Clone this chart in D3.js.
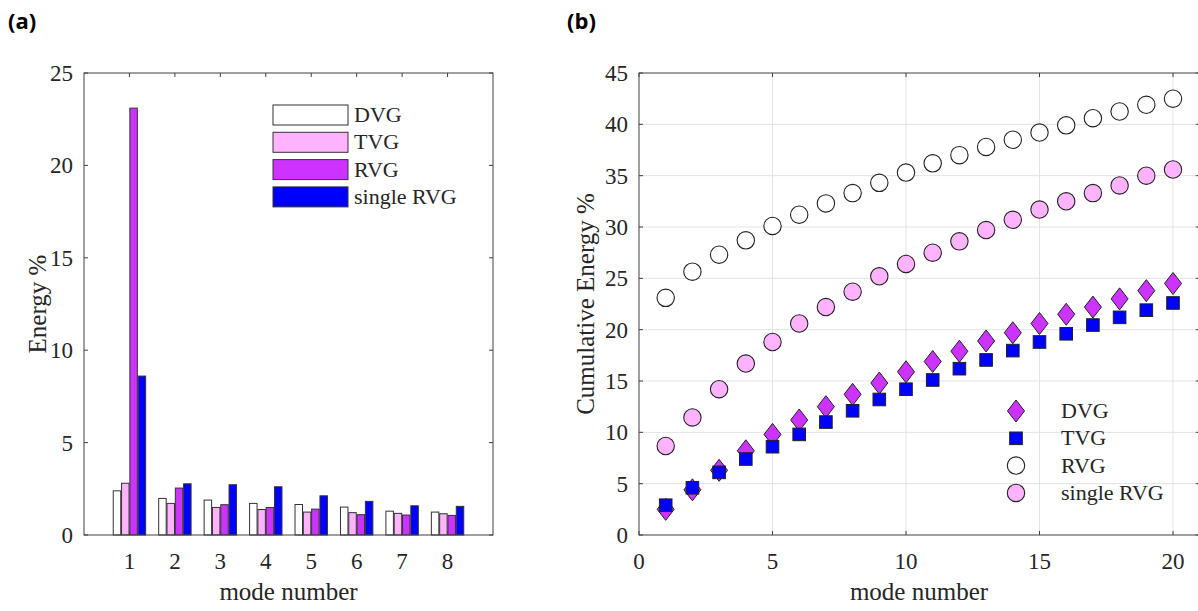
<!DOCTYPE html>
<html>
<head>
<meta charset="utf-8">
<script src="https://cdn.jsdelivr.net/npm/d3@7"></script>
<style>
  body { margin: 0; background: #fff; }
  svg text { font-family: "Liberation Serif", "Times New Roman", serif; fill: #262626; }
</style>
</head>
<body>
<svg id="chart" width="1198" height="611"></svg>
<script>
// ---- panel (a) data : energy per mode ----
var modesA = [1, 2, 3, 4, 5, 6, 7, 8];
var seriesNames = ["DVG", "TVG", "RVG", "single RVG"];
var energyDVG = [2.39, 1.98, 1.89, 1.71, 1.65, 1.51, 1.29, 1.24];
var energyTVG = [2.80, 1.71, 1.49, 1.38, 1.24, 1.21, 1.17, 1.15];
var energyRVG = [23.1, 2.54, 1.64, 1.49, 1.40, 1.10, 1.08, 1.06];
var energySingle = [8.6, 2.77, 2.72, 2.61, 2.12, 1.82, 1.58, 1.55];
var yTicksA = [0, 5, 10, 15, 20, 25];

// ---- panel (b) data : cumulative energy ----
var modesB = d3.range(1, 21);
var cumDVG = [2.5, 4.4, 6.3, 8.2, 9.8, 11.2, 12.5, 13.7, 14.8, 15.9, 16.9, 17.9, 18.9, 19.7, 20.6, 21.5, 22.2, 23.0, 23.8, 24.5];
var cumTVG = [2.9, 4.6, 6.1, 7.4, 8.6, 9.8, 11.0, 12.1, 13.2, 14.2, 15.1, 16.2, 17.05, 17.96, 18.8, 19.6, 20.45, 21.2, 21.9, 22.6];
var cumRVG = [23.1, 25.65, 27.3, 28.7, 30.1, 31.2, 32.3, 33.3, 34.3, 35.3, 36.2, 37.0, 37.8, 38.5, 39.2, 39.9, 40.6, 41.25, 41.9, 42.5];
var cumSingle = [8.67, 11.45, 14.2, 16.7, 18.8, 20.6, 22.2, 23.7, 25.2, 26.4, 27.5, 28.6, 29.7, 30.7, 31.7, 32.5, 33.3, 34.05, 35.0, 35.6];
var xTicksB = [0, 5, 10, 15, 20];
var yTicksB = [0, 5, 10, 15, 20, 25, 30, 35, 40, 45];

var colors = {"DVG": "#ffffff", "TVG": "#ffb3ff", "RVG": "#cc33ff", "single RVG": "#0000ff"};
var axisColor = "#404040";
var tickFont = "23px", labelFont = "25px", legendFont = "22px";
var svg = d3.select("#chart");

function drawBox(g, x0, x1, y0, y1) {
  g.append("rect").attr("x", x0).attr("y", y1).attr("width", x1 - x0).attr("height", y0 - y1)
    .attr("fill", "none").attr("stroke", axisColor).attr("stroke-width", 1);
}

// panel labels
svg.append("text").attr("x", 8).attr("y", 29).text("(a)")
  .style("font-family", "'Open Sans', 'Liberation Sans', sans-serif").style("font-weight", "bold")
  .style("font-size", "22px").style("fill", "#000");
svg.append("text").attr("x", 567).attr("y", 29).text("(b)")
  .style("font-family", "'Open Sans', 'Liberation Sans', sans-serif").style("font-weight", "bold")
  .style("font-size", "22px").style("fill", "#000");

// ================= panel (a) =================
var xa = d3.scaleLinear().domain([0, 9]).range([84, 493]);
var ya = d3.scaleLinear().domain([0, 25]).range([535, 73]);
var inner = d3.scaleBand().domain(seriesNames).range([-16.2, 16.2]).paddingInner(0.1);
var ga = svg.append("g");

var barData = [];
var seriesA = [energyDVG, energyTVG, energyRVG, energySingle];
seriesNames.forEach(function (s, j) {
  modesA.forEach(function (m, i) {
    barData.push({mode: m, series: s, value: seriesA[j][i]});
  });
});

ga.selectAll("rect.bar").data(barData).enter().append("rect")
  .attr("class", "bar")
  .attr("x", function (d) { return xa(d.mode) + inner(d.series); })
  .attr("y", function (d) { return ya(d.value); })
  .attr("width", inner.bandwidth())
  .attr("height", function (d) { return ya(0) - ya(d.value); })
  .attr("fill", function (d) { return colors[d.series]; })
  .attr("stroke", "#333").attr("stroke-width", 1);

drawBox(ga, 84, 493, 535, 73);

// ticks (inside, all four sides)
yTicksA.forEach(function (t) {
  ga.append("line").attr("x1", 84).attr("x2", 88).attr("y1", ya(t)).attr("y2", ya(t)).attr("stroke", axisColor);
  ga.append("line").attr("x1", 493).attr("x2", 489).attr("y1", ya(t)).attr("y2", ya(t)).attr("stroke", axisColor);
  ga.append("text").attr("x", 73).attr("y", ya(t) + 8).attr("text-anchor", "end")
    .style("font-size", tickFont).text(t);
});
modesA.forEach(function (m) {
  ga.append("line").attr("x1", xa(m)).attr("x2", xa(m)).attr("y1", 73).attr("y2", 77).attr("stroke", axisColor);
  ga.append("line").attr("x1", xa(m)).attr("x2", xa(m)).attr("y1", 535).attr("y2", 531).attr("stroke", axisColor);
  ga.append("text").attr("x", xa(m)).attr("y", 569).attr("text-anchor", "middle")
    .style("font-size", tickFont).text(m);
});
ga.append("text").attr("x", 288.5).attr("y", 600).attr("text-anchor", "middle")
  .style("font-size", labelFont).text("mode number");
ga.append("text").attr("transform", "translate(46,304) rotate(-90)").attr("text-anchor", "middle")
  .style("font-size", labelFont).text("Energy %");

// legend (a)
var legA = ga.append("g").attr("transform", "translate(273,105)");
seriesNames.forEach(function (s, i) {
  legA.append("rect").attr("x", 0).attr("y", i * 27.3).attr("width", 75).attr("height", 20)
    .attr("fill", colors[s]).attr("stroke", "#333").attr("stroke-width", 1);
  legA.append("text").attr("x", 81).attr("y", i * 27.3 + 17).style("font-size", legendFont).text(s);
});

// ================= panel (b) =================
var xb = d3.scaleLinear().domain([0, 21]).range([639, 1199.7]);
var yb = d3.scaleLinear().domain([0, 45]).range([535, 73]);
var gb = svg.append("g");

// grid
gb.selectAll("line.gx").data(xTicksB.slice(1)).enter().append("line")
  .attr("x1", function (d) { return xb(d); }).attr("x2", function (d) { return xb(d); })
  .attr("y1", 73).attr("y2", 535).attr("stroke", "#e3e3e3").attr("stroke-width", 1);
gb.selectAll("line.gy").data(yTicksB.slice(1, -1)).enter().append("line")
  .attr("x1", 639).attr("x2", 1199.7)
  .attr("y1", function (d) { return yb(d); }).attr("y2", function (d) { return yb(d); })
  .attr("stroke", "#e3e3e3").attr("stroke-width", 1);

drawBox(gb, 639, 1199.7, 535, 73);

yTicksB.forEach(function (t) {
  gb.append("line").attr("x1", 639).attr("x2", 643).attr("y1", yb(t)).attr("y2", yb(t)).attr("stroke", axisColor);
  gb.append("line").attr("x1", 1199.7).attr("x2", 1195.7).attr("y1", yb(t)).attr("y2", yb(t)).attr("stroke", axisColor);
  gb.append("text").attr("x", 628).attr("y", yb(t) + 8).attr("text-anchor", "end")
    .style("font-size", tickFont).text(t);
});
xTicksB.forEach(function (t) {
  gb.append("line").attr("x1", xb(t)).attr("x2", xb(t)).attr("y1", 73).attr("y2", 77).attr("stroke", axisColor);
  gb.append("line").attr("x1", xb(t)).attr("x2", xb(t)).attr("y1", 535).attr("y2", 531).attr("stroke", axisColor);
  gb.append("text").attr("x", xb(t)).attr("y", 569).attr("text-anchor", "middle")
    .style("font-size", tickFont).text(t);
});
gb.append("text").attr("x", 919).attr("y", 600).attr("text-anchor", "middle")
  .style("font-size", labelFont).text("mode number");
gb.append("text").attr("transform", "translate(594,304) rotate(-90)").attr("text-anchor", "middle")
  .style("font-size", labelFont).text("Cumulative Energy %");

function diamondPath(cx, cy) {
  return "M" + cx + "," + (cy - 11) + "L" + (cx + 8.5) + "," + cy + "L" + cx + "," + (cy + 11) + "L" + (cx - 8.5) + "," + cy + "Z";
}
function drawMarker(g, type, cx, cy, fill) {
  if (type === "diamond") {
    g.append("path").attr("d", diamondPath(cx, cy)).attr("fill", fill).attr("stroke", "#222").attr("stroke-width", 1);
  } else if (type === "square") {
    g.append("rect").attr("x", cx - 6.3).attr("y", cy - 6.3).attr("width", 12.6).attr("height", 12.6)
      .attr("fill", fill).attr("stroke", "#222").attr("stroke-width", 1);
  } else {
    g.append("circle").attr("cx", cx).attr("cy", cy).attr("r", 8.7)
      .attr("fill", fill).attr("stroke", "#222").attr("stroke-width", 1.1);
  }
}

var seriesB = [
  {name: "DVG", values: cumDVG, type: "diamond", fill: "#cc33ff"},
  {name: "TVG", values: cumTVG, type: "square", fill: "#0000ff"},
  {name: "RVG", values: cumRVG, type: "circle", fill: "#ffffff"},
  {name: "single RVG", values: cumSingle, type: "circle", fill: "#ffb3ff"}
];
seriesB.forEach(function (s) {
  var gs = gb.append("g");
  modesB.forEach(function (m, i) {
    drawMarker(gs, s.type, xb(m), yb(s.values[i]), s.fill);
  });
});

// legend (b)
var legB = gb.append("g").attr("transform", "translate(1016,411)");
seriesB.forEach(function (s, i) {
  var cy = i * 27.3;
  drawMarker(legB, s.type, 0, cy, s.fill);
  legB.append("text").attr("x", 45).attr("y", cy + 7).style("font-size", legendFont).text(s.name);
});
</script>
</body>
</html>
